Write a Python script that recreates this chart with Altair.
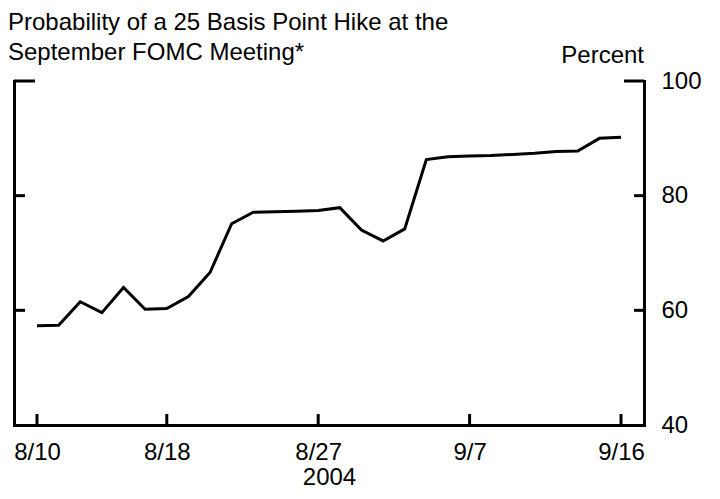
import altair as alt
import pandas as pd

# ---- data ----
dates = ["8/10", "8/11", "8/12", "8/13", "8/16", "8/17", "8/18", "8/19", "8/20",
         "8/23", "8/24", "8/25", "8/26", "8/27", "8/30", "8/31", "9/1", "9/2",
         "9/3", "9/6", "9/7", "9/8", "9/9", "9/10", "9/13", "9/14", "9/15", "9/16"]
values = [57.3, 57.4, 61.5, 59.6, 64.0, 60.2, 60.3, 62.4, 66.6,
          75.1, 77.1, 77.2, 77.3, 77.4, 77.9, 74.0, 72.1, 74.2,
          86.3, 86.8, 86.9, 87.0, 87.2, 87.4, 87.7, 87.8, 90.0, 90.2]
x_tick_idx = [0, 6, 13, 20, 27]
x_tick_labels = ["8/10", "8/18", "8/27", "9/7", "9/16"]
y_ticks = [40, 60, 80, 100]
y_short_ticks = [60, 80]
y_long_ticks = [100]
title_lines = ["Probability of a 25 Basis Point Hike at the", "September FOMC Meeting*"]
unit_label = "Percent"
x_title = "2004"

FONT = "Liberation Sans"
FS = 24
W, H = 630, 344

df = pd.DataFrame({"idx": list(range(len(dates))), "date": dates, "value": values})
xt = pd.DataFrame({"idx": x_tick_idx, "label": x_tick_labels})
ys = pd.DataFrame({"v": y_short_ticks})
yl = pd.DataFrame({"v": y_long_ticks})
one = pd.DataFrame({"a": [0]})

xscale = alt.Scale(domain=[-1.063, 28.063], nice=False, zero=False)
yscale = alt.Scale(domain=[40, 100], nice=False, zero=False)

label_expr = " : ".join(f"datum.value == {i} ? '{l}'" for i, l in zip(x_tick_idx, x_tick_labels)) + " : ''"

x_axis = alt.Axis(values=x_tick_idx, labelExpr=label_expr, ticks=False, grid=False,
                  domainColor="black", domainWidth=3, domainCap="square",
                  title=x_title, labelPadding=15, titlePadding=1,
                  labelColor="black", titleColor="black")

line = alt.Chart(df).mark_line(color="black", strokeWidth=3).encode(
    x=alt.X("idx:Q", scale=xscale, axis=x_axis),
    y=alt.Y("value:Q", scale=yscale,
            axis=alt.Axis(orient="left", labels=False, ticks=False, grid=False,
                          domainColor="black", domainWidth=3, domainCap="square", title=None)),
)

right_axis = alt.Chart(ys).mark_rule(color="black", strokeWidth=3).encode(
    x=alt.value(W - 10), x2=alt.value(W),
    y=alt.Y("v:Q", scale=yscale,
            axis=alt.Axis(orient="right", values=y_ticks, ticks=False, grid=False,
                          domainColor="black", domainWidth=3, domainCap="square",
                          labelPadding=17, labelColor="black", title=None)),
)
left_short = alt.Chart(ys).mark_rule(color="black", strokeWidth=3).encode(
    x=alt.value(0), x2=alt.value(11), y=alt.Y("v:Q", scale=yscale, axis=None))
left_long = alt.Chart(yl).mark_rule(color="black", strokeWidth=3).encode(
    x=alt.value(0), x2=alt.value(21), y=alt.Y("v:Q", scale=yscale, axis=None))
right_long = alt.Chart(yl).mark_rule(color="black", strokeWidth=3).encode(
    x=alt.value(W - 20), x2=alt.value(W), y=alt.Y("v:Q", scale=yscale, axis=None))
bottom_ticks = alt.Chart(xt).mark_rule(color="black", strokeWidth=3).encode(
    x=alt.X("idx:Q", scale=xscale, axis=x_axis), y=alt.value(H), y2=alt.value(H - 11))

t1 = alt.Chart(one).mark_text(text=title_lines[0], align="left", baseline="alphabetic",
                              font=FONT, fontSize=FS, color="black").encode(
    x=alt.value(-6), y=alt.value(-51))
t2 = alt.Chart(one).mark_text(text=title_lines[1], align="left", baseline="alphabetic",
                              font=FONT, fontSize=FS, color="black").encode(
    x=alt.value(-6), y=alt.value(-21))
t3 = alt.Chart(one).mark_text(text=unit_label, align="right", baseline="alphabetic",
                              font=FONT, fontSize=FS, color="black").encode(
    x=alt.value(630), y=alt.value(-18))

chart = alt.layer(
    line, right_axis, left_short, left_long, right_long, bottom_ticks, t1, t2, t3
).resolve_axis(y="independent").properties(
    width=W, height=H, autosize="none",
    padding={"left": 6, "top": 73, "right": 60, "bottom": 66},
).configure_view(stroke=None).configure_axis(
    labelFont=FONT, titleFont=FONT, labelFontSize=FS, titleFontSize=FS,
    titleFontWeight="normal",
)

chart.save("out.html", embed_options={"renderer": "svg", "actions": False})
